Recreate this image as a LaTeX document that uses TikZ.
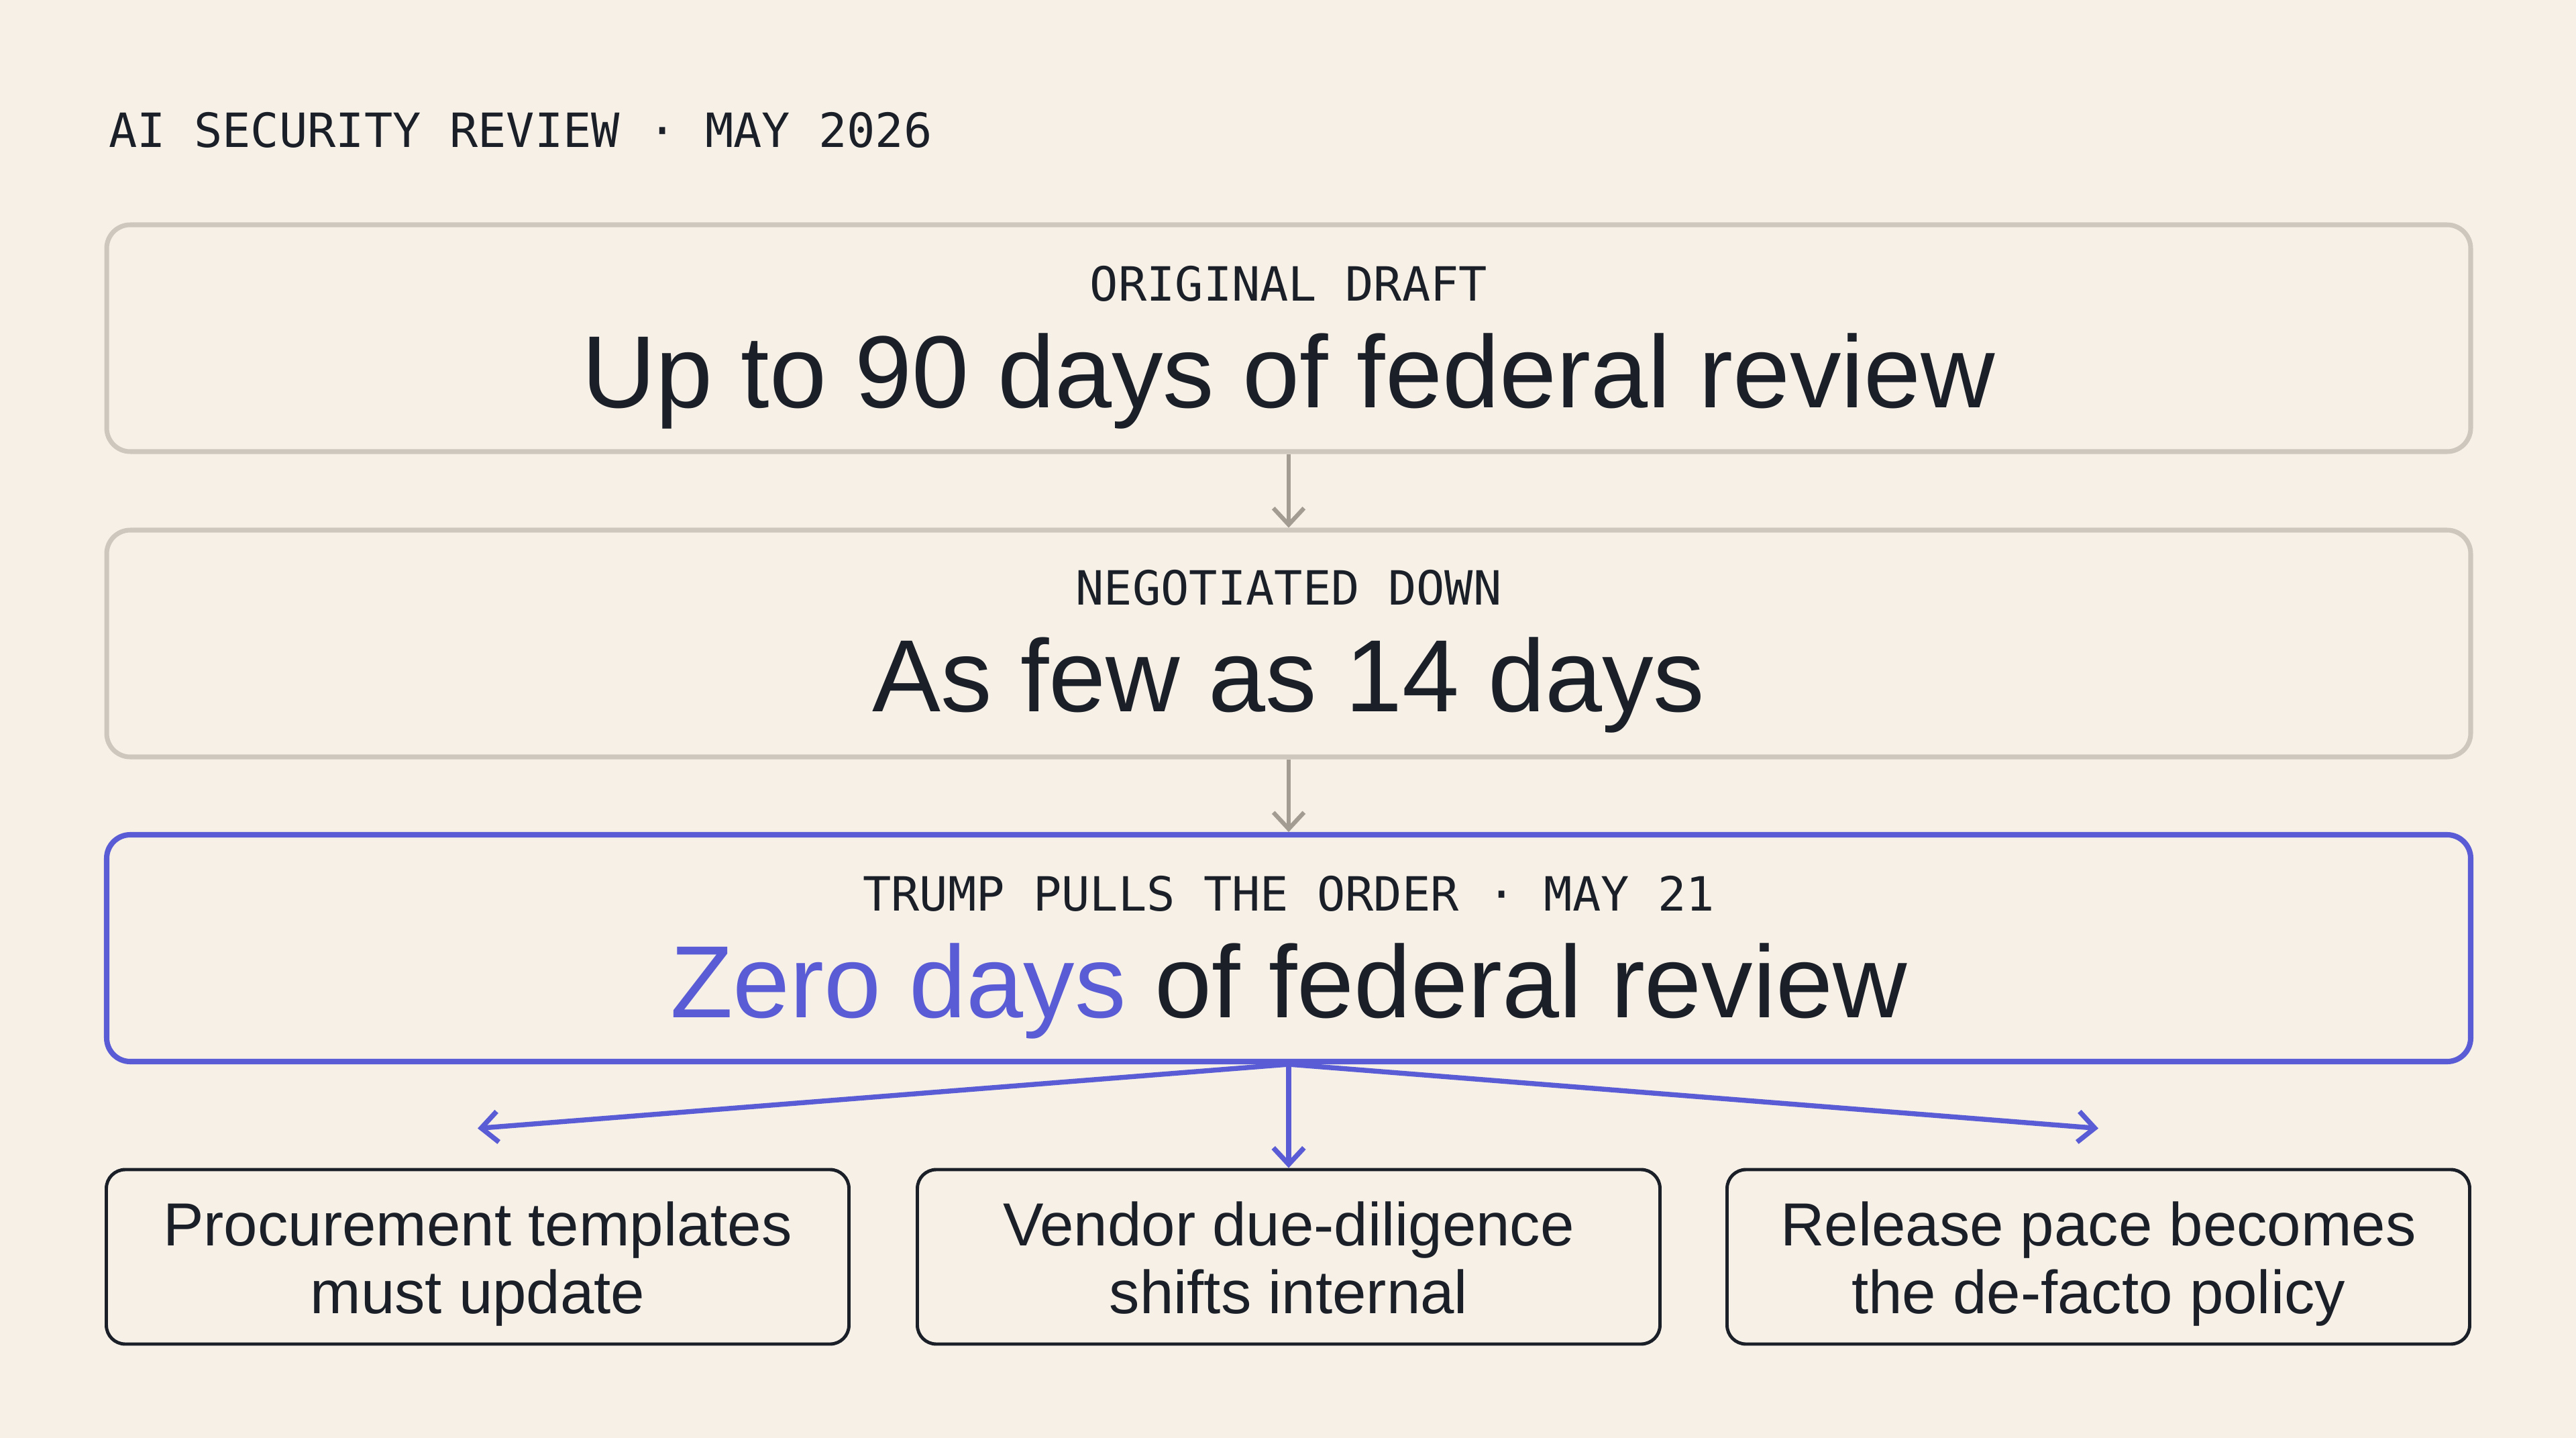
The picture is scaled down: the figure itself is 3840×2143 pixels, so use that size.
\documentclass[tikz,border=0pt]{standalone}
\usepackage{fontspec}
\setmainfont{Liberation Sans}
\setmonofont{DejaVu Sans Mono}
\usetikzlibrary{arrows.meta,positioning}
\definecolor{paper}{HTML}{F6F0E7}
\definecolor{ink}{HTML}{1B2028}
\definecolor{stone}{HTML}{CEC7BD}
\definecolor{stonedark}{HTML}{A39C92}
\definecolor{indigo}{HTML}{5A5CD6}

\begin{document}
\begin{tikzpicture}
[x = 0.1mm, y = -0.1mm, >={Straight Barb[length=7pt,width=13pt]},
stage/.style = {draw = stone, line width = 2pt, rounded corners = 10pt, minimum width = 352.4mm, minimum height = 33.8mm},
hotstage/.style = {stage, draw = indigo, line width = 2.3pt},
tag/.style = {anchor = base, text = ink, font = \ttfamily\fontsize{20}{24}\selectfont},
headline/.style = {anchor = base, text = ink, font = \fontsize{43.5}{50}\selectfont},
outcome/.style = {draw = ink, line width = 1.4pt, rounded corners = 8pt, minimum width = 110.7mm, minimum height = 26mm},
outcometext/.style = {align = center, text = ink, font = \fontsize{25.8}{28.7}\selectfont},
step arrow/.style = {->, draw = stonedark, line width = 1.8pt},
fan/.style = {->, draw = indigo, line width = 2.1pt}]
\fill[paper] (0,0) rectangle (3840,2143);
\useasboundingbox (0,0) rectangle (3840,2143);
\node[tag, anchor = base west] (title) at (150,220) {AI SECURITY REVIEW · MAY 2026};
\node[stage] (draft) at (1921,504) {};
\node[stage] (cut) at (1921,959) {};
\node[hotstage] (order) at (1921,1413) {};
\node[tag] (draftlabel) at (1921,448) {ORIGINAL DRAFT};
\node[headline] (drafttext) at (1921,607) {Up to 90 days of federal review};
\node[tag] (cutlabel) at (1921,901) {NEGOTIATED DOWN};
\node[headline] (cuttext) at (1921,1060) {As few as 14 days};
\node[tag] (orderlabel) at (1921,1357) {TRUMP PULLS THE ORDER · MAY 21};
\node[headline] (ordertext) at (1921,1516) {\textcolor{indigo}{Zero days} of federal review};
\node[outcome] (procure) at (712,1873) {};
\node[outcome] (vendor) at (1921,1873) {};
\node[outcome] (release) at (3128,1873) {};
\node[outcometext] (procuretext) at (712,1887) {\strut Procurement templates\\\strut must update};
\node[outcometext] (vendortext) at (1921,1887) {\strut Vendor due-diligence\\\strut shifts internal};
\node[outcometext] (releasetext) at (3128,1887) {\strut Release pace becomes\\\strut the de-facto policy};
\coordinate (procureend) at ([yshift=5.9mm]procure.north);
\coordinate (releaseend) at ([yshift=5.9mm]release.north);
\draw[step arrow] (draft.south) -- (cut.north);
\draw[step arrow] (cut.south) -- (order.north);
\draw[fan] (order.south) -- (procureend);
\draw[fan] (order.south) -- (vendor.north);
\draw[fan] (order.south) -- (releaseend);
\end{tikzpicture}
\end{document}
